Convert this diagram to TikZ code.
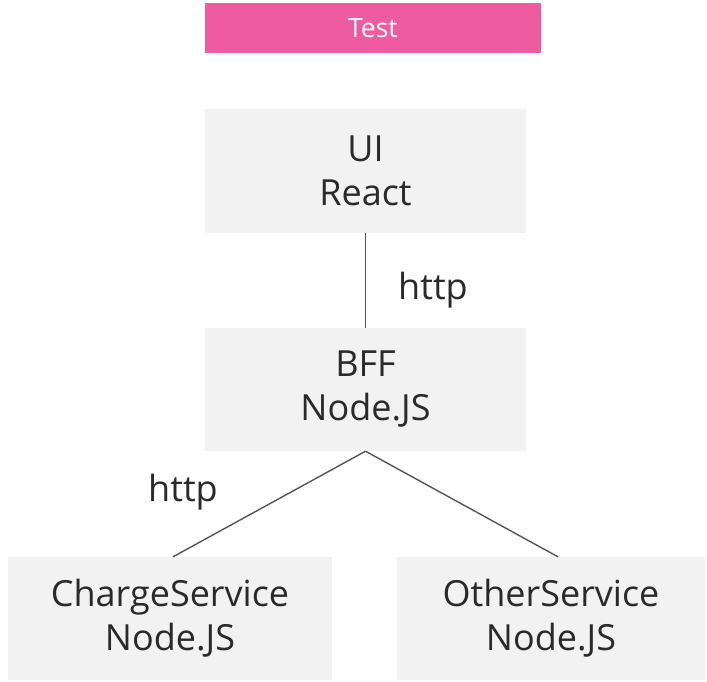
\documentclass[tikz,border=0pt]{standalone}
\usepackage{fontspec}
\setmainfont{Open Sans}
\definecolor{testpink}{HTML}{EE5BA0}
\definecolor{boxgray}{HTML}{F2F2F2}
\definecolor{linegray}{HTML}{555555}
\definecolor{textdark}{HTML}{2A2A2A}
\tikzset{
  tier/.style={fill=boxgray, inner sep=0pt, align=center, text=textdark,
    font=\fontsize{36}{44}\selectfont},
  banner/.style={fill=testpink, inner sep=0pt, text=white,
    font=\fontsize{26.5}{30}\selectfont},
  link/.style={draw=linegray, line width=1.4pt},
  proto/.style={text=textdark, font=\fontsize{36}{44}\selectfont}
}
\begin{document}
\begin{tikzpicture}[x=1pt, y=-1pt]
        \useasboundingbox (0,0) rectangle (707,681);
        % Title bar
        \node[banner, minimum width=336pt, minimum height=50pt] (test) at (373,28) {Test};

        % Tiers
        \node[tier, minimum width=321pt, minimum height=124pt] (ui) at (365.5,171) {UI\\React};
        \node[tier, minimum width=321pt, minimum height=123pt] (bff) at (365.5,389.5) {BFF\\Node.JS};
        \node[tier, minimum width=324pt, minimum height=123pt] (charge) at (170,618.5) {ChargeService\\Node.JS};
        \node[tier, minimum width=308pt, minimum height=123pt] (other) at (551,618.5) {OtherService\\Node.JS};

        % Links between tiers
        \draw[link] (ui.south) -- (bff.north);
        \draw[link] (bff.south) -- ([xshift=3pt]charge.north);
        \draw[link] (bff.south) -- ([xshift=7pt]other.north);

        % Protocol labels
        \node[proto] (httpA) at (433,290) {http};
        \node[proto] (httpB) at (183,492) {http};
    \end{tikzpicture}
\end{document}
